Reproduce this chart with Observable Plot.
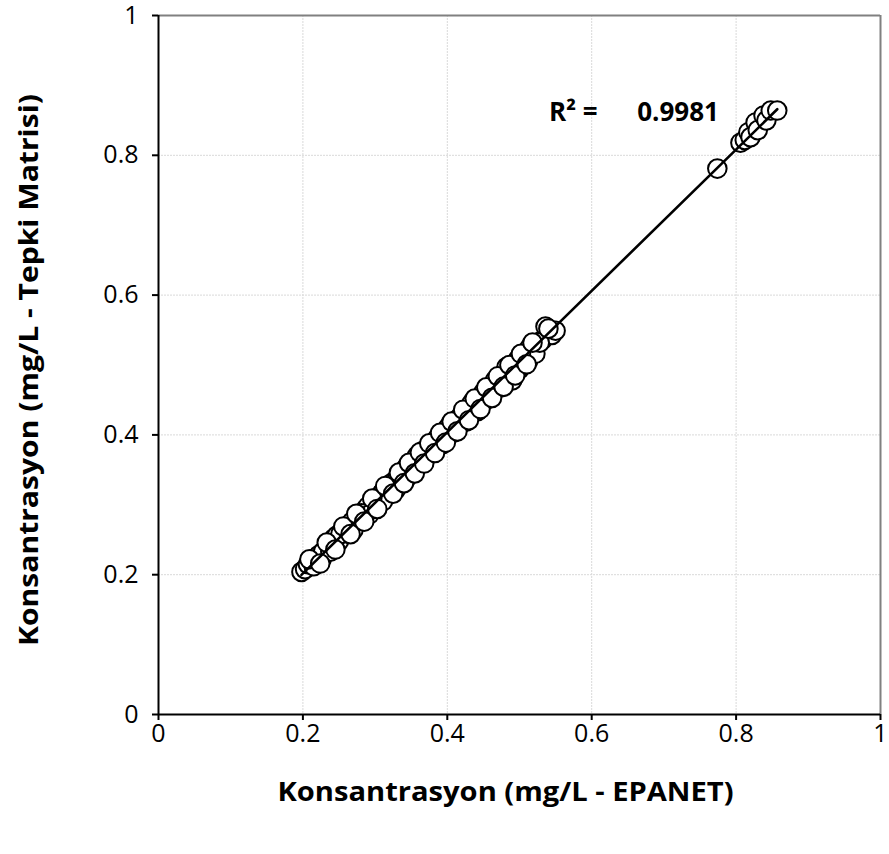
<!DOCTYPE html>
<html>
<head>
<meta charset="utf-8">
<script src="https://cdn.jsdelivr.net/npm/d3@7"></script>
<script src="https://cdn.jsdelivr.net/npm/@observablehq/plot@0.6"></script>
<style>
  body { margin: 0; background: #fff; }
  #chart svg { display: block; }
  #chart g.ticklab text { font-size: 25px !important; }
</style>
</head>
<body>
<div id="chart"></div>
<script>
const xTicks = [0, 0.2, 0.4, 0.6, 0.8, 1];
const yTicks = [0, 0.2, 0.4, 0.6, 0.8, 1];
const xLabel = "Konsantrasyon (mg/L - EPANET)";
const yLabel = "Konsantrasyon (mg/L - Tepki Matrisi)";
const r2Left = "R² =";
const r2Value = "0.9981";

// EPANET concentrations (x)
const epanet = [
  0.198, 0.203, 0.207, 0.212, 0.218, 0.222, 0.226, 0.231, 0.236, 0.240,
  0.243, 0.247, 0.250, 0.254, 0.258, 0.261, 0.265, 0.268, 0.272, 0.276,
  0.279, 0.283, 0.287, 0.290, 0.294, 0.297, 0.301, 0.305, 0.309, 0.312,
  0.316, 0.320, 0.323, 0.327, 0.331, 0.334, 0.338, 0.341, 0.345, 0.349,
  0.352, 0.356, 0.360, 0.363, 0.366, 0.370, 0.373, 0.377, 0.381, 0.384,
  0.388, 0.392, 0.396, 0.400, 0.404, 0.408, 0.412, 0.416, 0.420, 0.424,
  0.428, 0.432, 0.436, 0.440, 0.444, 0.448, 0.452, 0.456, 0.460, 0.464,
  0.468, 0.472, 0.476, 0.480, 0.484, 0.488, 0.492, 0.496, 0.500, 0.504,
  0.508, 0.512, 0.516, 0.520, 0.525, 0.532, 0.536, 0.545, 0.550,
  0.215, 0.228, 0.238, 0.252, 0.263, 0.270, 0.281, 0.292, 0.300, 0.311,
  0.318, 0.329, 0.336, 0.343, 0.351, 0.358, 0.365, 0.372, 0.379, 0.386,
  0.394, 0.402, 0.410, 0.418, 0.426, 0.434, 0.442, 0.450, 0.458, 0.466,
  0.474, 0.482, 0.490, 0.498, 0.506, 0.514, 0.522, 0.528,
  0.209, 0.224, 0.233, 0.245, 0.256, 0.266, 0.274, 0.285, 0.296, 0.303,
  0.314, 0.325, 0.333, 0.340, 0.347, 0.355, 0.362, 0.368, 0.375, 0.383,
  0.390, 0.398, 0.406, 0.414, 0.422, 0.430, 0.438, 0.446, 0.454, 0.462,
  0.470, 0.478, 0.486, 0.494, 0.502, 0.510, 0.518, 0.540,
  0.774, 0.806, 0.812, 0.817, 0.820, 0.827, 0.830, 0.838, 0.842, 0.848, 0.857
];
// Response-matrix concentrations (y)
const tepki = [
  0.204, 0.208, 0.215, 0.219, 0.224, 0.228, 0.222, 0.236, 0.244, 0.238,
  0.252, 0.256, 0.248, 0.262, 0.266, 0.259, 0.272, 0.276, 0.270, 0.283,
  0.287, 0.281, 0.294, 0.298, 0.291, 0.305, 0.309, 0.302, 0.316, 0.320,
  0.313, 0.327, 0.331, 0.324, 0.339, 0.343, 0.335, 0.350, 0.356, 0.346,
  0.361, 0.365, 0.357, 0.372, 0.377, 0.367, 0.381, 0.386, 0.378, 0.392,
  0.397, 0.389, 0.404, 0.409, 0.401, 0.417, 0.421, 0.412, 0.429, 0.434,
  0.425, 0.441, 0.445, 0.437, 0.452, 0.456, 0.449, 0.465, 0.469, 0.461,
  0.477, 0.482, 0.473, 0.490, 0.494, 0.485, 0.500, 0.504, 0.494, 0.510,
  0.515, 0.506, 0.521, 0.526, 0.530, 0.536, 0.555, 0.543, 0.549,
  0.212, 0.233, 0.233, 0.258, 0.268, 0.264, 0.288, 0.286, 0.306, 0.305,
  0.325, 0.322, 0.346, 0.337, 0.352, 0.370, 0.360, 0.376, 0.374, 0.395,
  0.387, 0.412, 0.404, 0.425, 0.419, 0.446, 0.434, 0.461, 0.452, 0.478,
  0.468, 0.497, 0.478, 0.508, 0.500, 0.525, 0.516, 0.532,
  0.222, 0.216, 0.246, 0.236, 0.269, 0.258, 0.287, 0.276, 0.309, 0.294,
  0.327, 0.316, 0.346, 0.331, 0.360, 0.345, 0.375, 0.359, 0.388, 0.374,
  0.403, 0.389, 0.419, 0.405, 0.436, 0.421, 0.452, 0.437, 0.468, 0.453,
  0.484, 0.469, 0.500, 0.485, 0.516, 0.501, 0.532, 0.552,
  0.781, 0.818, 0.822, 0.833, 0.826, 0.847, 0.836, 0.857, 0.850, 0.864, 0.864
];

const data = epanet.map((x, i) => ({x, y: tepki[i]}));
const font = "'Open Sans', sans-serif";

const chart = Plot.plot({
  width: 889,
  height: 854,
  marginLeft: 158,
  marginRight: 9,
  marginTop: 15,
  marginBottom: 140,
  style: {fontFamily: font, background: "#fff"},
  x: {domain: [0, 1]},
  y: {domain: [0, 1]},
  marks: [
    Plot.gridX(xTicks.slice(1, -1), {stroke: "#d9d9d9", strokeOpacity: 1, strokeDasharray: "2,1"}),
    Plot.gridY(yTicks.slice(1, -1), {stroke: "#d9d9d9", strokeOpacity: 1, strokeDasharray: "2,1"}),
    Plot.ruleY([1], {stroke: "#808080", strokeWidth: 2}),
    Plot.ruleX([1], {stroke: "#808080", strokeWidth: 2}),
    Plot.axisX(xTicks, {tickSize: 6, tickPadding: 4, label: null, tickFormat: d => String(d), strokeWidth: 2, className: "ticklab"}),
    Plot.axisY(yTicks, {tickSize: 6, tickPadding: 14, label: null, tickFormat: d => String(d), strokeWidth: 2, className: "ticklab"}),
    Plot.ruleX([0], {stroke: "black", strokeWidth: 2}),
    Plot.ruleY([0], {stroke: "black", strokeWidth: 2}),
    Plot.dot(data, {x: "x", y: "y", r: 9.3, fill: "white", stroke: "black", strokeWidth: 2}),
    Plot.linearRegressionY(data, {x: "x", y: "y", stroke: "black", strokeWidth: 2.6, ci: 0}),
    Plot.text([r2Left], {x: 0.541, y: 0.861, text: d => d, textAnchor: "start", fontSize: 26, fontWeight: "bold"}),
    Plot.text([r2Value], {x: 0.663, y: 0.861, text: d => d, textAnchor: "start", fontSize: 26, fontWeight: "bold"}),
    Plot.text([xLabel], {frameAnchor: "bottom", dy: 86, dx: -14, textAnchor: "middle", text: d => d, fontSize: 27, fontWeight: "bold", className: "xlabel"}),
    Plot.text([yLabel], {frameAnchor: "left", dx: -129, dy: 5, rotate: -90, textAnchor: "middle", text: d => d, fontSize: 27, fontWeight: "bold", className: "ylabel"})
  ]
});

document.getElementById("chart").appendChild(chart);
d3.select(chart).selectAll(".xlabel text").attr("textLength", 456).attr("lengthAdjust", "spacingAndGlyphs");
d3.select(chart).selectAll(".ylabel text").attr("textLength", 552).attr("lengthAdjust", "spacingAndGlyphs");
d3.select(chart).selectAll("g[aria-label$='tick label']").attr("font-size", 25).style("font-size", "25px");
</script>
</body>
</html>
